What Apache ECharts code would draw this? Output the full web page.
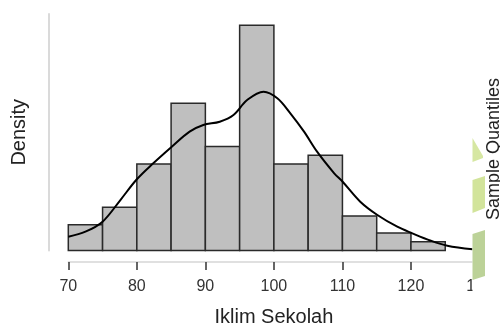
<!DOCTYPE html>
<html>
<head>
<meta charset="utf-8">
<script src="https://cdn.jsdelivr.net/npm/echarts@6/dist/echarts.min.js"></script>
<style>
  html, body { margin: 0; padding: 0; background: #fff; }
  #chart { width: 500px; height: 329px; }
</style>
</head>
<body>
<div id="chart"></div>
<script>
// Histogram of "Iklim Sekolah" scores: bins of width 5, heights as density
const binStarts = [70, 75, 80, 85, 90, 95, 100, 105, 110, 115, 120];
const binWidth = 5;
const binDensity = [0.0059, 0.0099, 0.0198, 0.0337, 0.0238, 0.0515, 0.0198, 0.0218, 0.0079, 0.0040, 0.0020];

// Kernel density estimate drawn over the histogram
const kdeX = [70, 72.5, 75, 77.6, 80, 82.4, 85.1, 87.7, 89.7, 92.1, 94.1, 96.1, 98.5, 100.5, 102.4, 104.4, 106.3, 108.8, 110, 112.6, 115.1, 118, 120.2, 122.9, 125.3, 129];
const kdeY = [0.00316, 0.0043, 0.00659, 0.01155, 0.01629, 0.01995, 0.02374, 0.02718, 0.02871, 0.02946, 0.031, 0.03443, 0.03633, 0.03482, 0.03138, 0.02718, 0.0226, 0.01766, 0.01578, 0.01116, 0.00812, 0.00544, 0.00393, 0.00224, 0.0011, 0.00027];

// x-axis ticks
const xTicks = [70, 80, 90, 100, 110, 120, 130];

const FONT = '"Liberation Sans", Arial, sans-serif';
const chart = echarts.init(document.getElementById('chart'), null, { renderer: 'canvas' });

const histData = binStarts.map((s, i) => [s, s + binWidth, binDensity[i]]);
const kdeData = kdeX.map((x, i) => [x, kdeY[i]]);

chart.setOption({
  animation: false,
  backgroundColor: '#fff',
  grid: { left: 68.3, right: 20.5, top: 14, bottom: 78.5, containLabel: false, outerBoundsMode: 'none' },
  xAxis: {
    type: 'value',
    min: xTicks[0],
    max: xTicks[xTicks.length - 1],
    interval: xTicks[1] - xTicks[0],
    offset: 11.5,
    axisLine: { show: true, onZero: false, lineStyle: { color: '#d6d6d6', width: 1.5 } },
    axisTick: { show: true, inside: false, length: 8, lineStyle: { color: '#333', width: 1.5 } },
    axisLabel: { show: true, fontSize: 16, color: '#333', fontFamily: FONT, margin: 17 },
    splitLine: { show: false },
    name: 'Iklim Sekolah',
    nameLocation: 'middle',
    nameGap: 45,
    nameTextStyle: { fontSize: 20, color: '#222', fontFamily: FONT }
  },
  yAxis: {
    type: 'value',
    min: 0,
    max: 0.0541,
    offset: 19.3,
    axisLine: { show: true, onZero: false, lineStyle: { color: '#dadada', width: 2 } },
    axisTick: { show: false },
    axisLabel: { show: false },
    splitLine: { show: false },
    name: 'Density',
    nameLocation: 'middle',
    nameGap: 20,
    nameTextStyle: { fontSize: 20, color: '#222', fontFamily: FONT }
  },
  series: [
    {
      type: 'custom',
      data: histData,
      encode: { x: [0, 1], y: 2 },
      z: 2,
      renderItem: function (params, api) {
        const topLeft = api.coord([api.value(0), api.value(2)]);
        const bottomRight = api.coord([api.value(1), 0]);
        return {
          type: 'rect',
          shape: {
            x: topLeft[0],
            y: topLeft[1],
            width: bottomRight[0] - topLeft[0],
            height: bottomRight[1] - topLeft[1]
          },
          style: { fill: '#bfbfbf', stroke: '#2a2a2a', lineWidth: 1.5 }
        };
      }
    },
    {
      type: 'line',
      data: kdeData,
      smooth: 0.35,
      showSymbol: false,
      z: 3,
      lineStyle: { color: '#000', width: 2 }
    }
  ],
  graphic: [
    // neighbouring panel edge on the right
    { type: 'rect', z: 100, shape: { x: 472.5, y: 0, width: 30, height: 329 }, style: { fill: '#fff' } },
    { type: 'polygon', z: 101, shape: { points: [[472.5, 138], [483, 156], [483, 158], [472.5, 162]] }, style: { fill: '#d6e7a2' } },
    { type: 'polygon', z: 101, shape: { points: [[472.5, 180], [485, 176], [485, 208], [472.5, 213]] }, style: { fill: '#d2e49b' } },
    { type: 'polygon', z: 101, shape: { points: [[472.5, 234], [485, 230], [485, 276], [472.5, 280]] }, style: { fill: '#bcd298' } },
    {
      type: 'text', z: 102,
      x: 494, y: 149,
      rotation: Math.PI / 2,
      style: {
        text: 'Sample Quantiles',
        fontSize: 18,
        fontFamily: FONT,
        fill: '#222',
        align: 'center',
        verticalAlign: 'middle'
      }
    }
  ]
});
</script>
</body>
</html>
